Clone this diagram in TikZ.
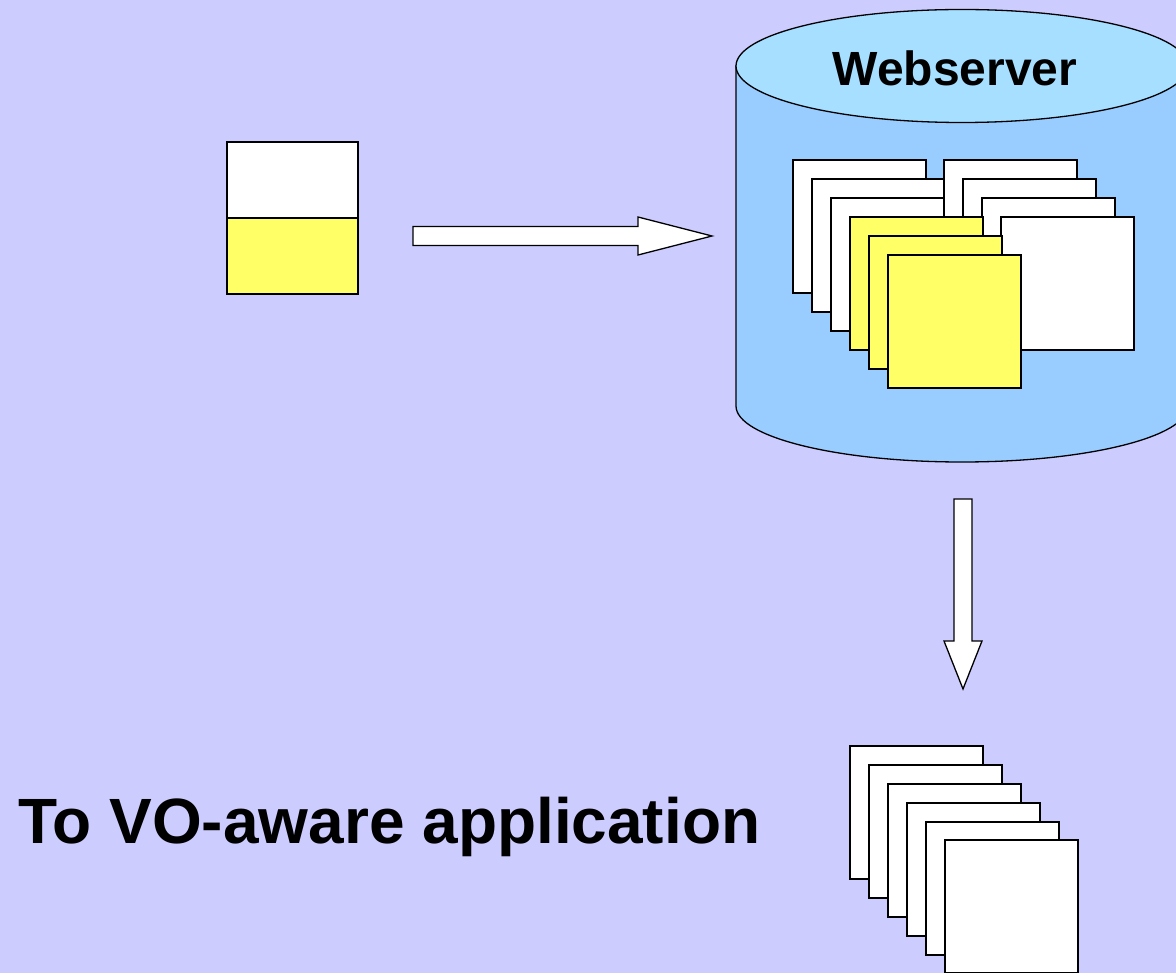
\documentclass[tikz,border=0pt]{standalone}
\usepackage{fontspec}
\setmainfont{Liberation Sans}
\definecolor{bgcol}{HTML}{CCCCFF}
\definecolor{drumside}{HTML}{99CCFF}
\definecolor{drumtop}{HTML}{A6DFFF}
\definecolor{pageyellow}{HTML}{FFFF66}
\tikzset{
  page/.style={draw=black, line width=1.6pt, fill=white, minimum width=133pt,
    minimum height=133pt, inner sep=0pt, anchor=north west},
  yellowpage/.style={page, fill=pageyellow},
  blockarrow/.style={draw=black, line width=1.3pt, fill=white, line join=miter},
  drum/.style={draw=black, line width=1.3pt},
  bigtext/.style={font=\bfseries\fontsize{64}{70}\selectfont, inner sep=0pt},
  drumtext/.style={font=\bfseries\fontsize{48}{54}\selectfont, inner sep=0pt}
}
\begin{document}
\begin{tikzpicture}[x=1pt, y=-1pt]
  \useasboundingbox (0,0) rectangle (1176,973);
  \clip (0,0) rectangle (1176,973);
  \fill[bgcol] (0,0) rectangle (1176,973);

  % input document: white header over yellow body
  \node[draw=black, line width=1.6pt, fill=white, anchor=north west,
        minimum width=131pt, minimum height=76pt, inner sep=0pt] (dochead) at (226,141) {};
  \node[draw=black, line width=1.6pt, fill=pageyellow, anchor=north west,
        minimum width=131pt, minimum height=76pt, inner sep=0pt] (docbody) at (226,217) {};

  % webserver drum
  \coordinate (drumc) at (962,66);
  \fill[drumside, drum] (736,66) -- (736,406) arc[start angle=180, end angle=360,
        x radius=226, y radius=-56] -- (1188,66) -- cycle;
  \draw[drum, fill=drumtop] (drumc) ellipse[x radius=226, y radius=56.5];
  \node[drumtext, anchor=base] (websrv) at (955,86) {Webserver};

  % stored pages: left stack
  \node[page] (l1) at (792,159) {};
  \node[page] (l2) at (811,178) {};
  \node[page] (l3) at (830,197) {};
  % right stack
  \node[page] (r1) at (943,159) {};
  \node[page] (r2) at (962,178) {};
  \node[page] (r3) at (981,197) {};
  \node[page] (r4) at (1000,216) {};
  % yellow pages in front
  \node[yellowpage] (y1) at (849,216) {};
  \node[yellowpage] (y2) at (868,235) {};
  \node[yellowpage] (y3) at (887,254) {};

  % output pages
  \node[page] (o1) at (849,745) {};
  \node[page] (o2) at (868,764) {};
  \node[page] (o3) at (887,783) {};
  \node[page] (o4) at (906,802) {};
  \node[page] (o5) at (925,821) {};
  \node[page] (o6) at (944,839) {};

  % block arrow: document to webserver
  \coordinate (ha) at (413,236);
  \draw[blockarrow] (ha) ++(0,-9.5) -- ++(225,0) -- ++(0,-9.5) -- ++(74,19)
        -- ++(-74,19) -- ++(0,-9.5) -- ++(-225,0) -- cycle;

  % block arrow: webserver to output
  \coordinate (va) at (963,499);
  \draw[blockarrow] (va) ++(-9,0) -- ++(0,142) -- ++(-10,0) -- ++(19,48)
        -- ++(19,-48) -- ++(-10,0) -- ++(0,-142) -- cycle;

  \node[bigtext, anchor=base west] (caption) at (18,843) {To VO-aware application};
\end{tikzpicture}
\end{document}
